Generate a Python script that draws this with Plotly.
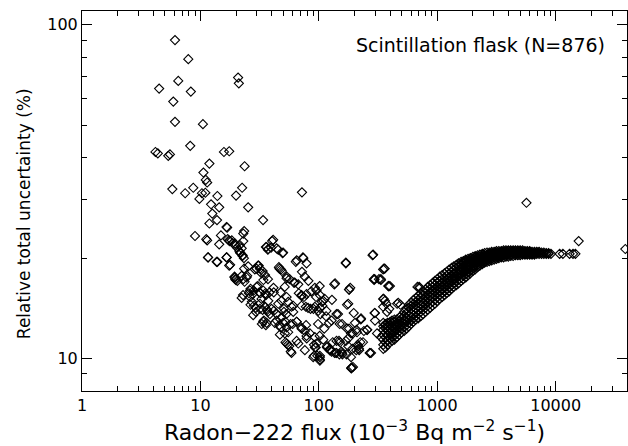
import math
import plotly.graph_objects as go

# ---------------- data ----------------
# scattered points: flux (10^-3 Bq m^-2 s^-1) and relative total uncertainty (%)
flux_scatter = [
    6.1, 7.9, 6.5, 4.48, 8.3, 5.9, 6.1, 10.5, 8.2, 4.17, 4.37, 5.35, 5.53, 15.8, 17.5, 20.8, 21.1,
    11.9, 23.6, 10.6, 11.1, 11.4, 5.79, 8.7, 7.43, 10.3, 11.0, 9.8, 13.9, 22.5, 20.0, 72, 12.3,
    14.4, 25.3, 12.6, 13.8, 11.9, 33.8, 16.6, 16.8, 23.4, 9.0, 11.2, 11.4, 14.9, 17.0, 17.4, 18.4,
    14.4, 19.6, 21.5, 22.3, 21.8, 22.7, 41.1, 35.7, 37.1, 39.5, 44, 49.9, 11.6, 16.7, 13.9, 17.8,
    65, 74, 169, 287, 360, 19.4, 19.7, 23.6, 25.3, 29.8, 31, 33.5, 35.1, 34, 46.5, 48.7, 53.6,
    56.6, 62.6, 72, 76, 81.6, 92.5, 101.6, 137, 184, 296, 322, 398, 22.9, 25.7, 26.5, 28.2, 30.5,
    32.2, 35.4, 38.3, 41.4, 41.6, 47.6, 51.5, 67.7, 71.5, 86.2, 94.7, 106, 112, 27.2, 26.5, 29.4,
    31.8, 33.5, 37.1, 39.8, 44, 50.7, 53.1, 60.7, 81, 90, 102, 129, 177, 34.3, 33, 36.2, 42.4,
    47.6, 52.3, 60.2, 65, 71.5, 78, 98.5, 111, 122, 145, 157, 180, 202, 227, 52.3, 54.8, 57.9,
    79, 91, 101.6, 91, 102, 124, 131, 140, 157, 151, 187, 194, 188, 207, 213, 218, 224, 276, 187,
    177, 210, 255, 298, 362, 349, 377, 458, 703, 310, 335, 236,
    # left cluster details
    17.7, 18.7, 19.5, 20.4, 21.3, 21.6, 22.7, 23.3, 23.0, 23.0, 11.6, 13.7, 16.6, 17.5, 23.4, 19.5,
    19.9, 22.3, 24.8, 40.3, 36.2, 37.3, 45.4, 49.4, 46, 47.9, 30.7, 31.8, 28.8, 32.9, 37.2, 53.4,
    63.9, 73.4, 78.7,
    19.5, 20.5, 23.0, 24.5, 26.2, 27.6, 26.2, 22.3, 29.8, 31.4, 33.9, 35.7, 32.8, 37.4, 28.3, 29.4,
    27.9, 31.8, 35.0, 36.6, 38.6, 41.7, 45.4, 48.4, 53.4, 55.1, 58.8, 60.8, 50.7, 48.4, 44.0, 46.3,
    50.0, 53.4, 57.7, 55.1, 51.6, 46.9, 33.9, 35.7, 64.9, 71.4, 76.2, 78.7, 84.0, 92.5, 61.5, 67.0,
    71.4, 74.8, 78.7, 95.5, 102, 109, 107, 116, 115, 128, 71.4, 77.6, 85.1, 92.5, 98.8, 103, 64.9,
    67.0, 56.2, 58.8, 53.4, 95.5, 109, 117, 124, 136, 149, 158, 171, 89.6, 102,
    # middle region details
    284, 169, 349, 135, 180, 293, 334, 387, 173, 141, 197, 226, 296, 353, 372, 150, 173, 208, 194,
    240, 256, 148, 169, 177, 192, 215, 219, 269, 92.5, 102, 117, 128, 141, 155, 188, 141, 76.2, 94,
    97, 102, 124,
    # near the band and beyond it
    354, 291, 334, 387, 180, 680, 713, 1762, 1652, 1038, 922, 468, 489, 349, 361, 297, 393, 270,
    189, 5660, 15630, 38700, 10800, 11500, 13100, 14000, 14660,
]
unc_scatter = [
    90, 78.9, 67.9, 64.4, 63.1, 58.9, 51.2, 50.4, 43.4, 41.6, 41.2, 40.5, 40.9, 41.6, 41.8, 69.5, 66.8,
    38.4, 37.7, 36.1, 34.3, 33.7, 32.2, 32.5, 31.3, 31.3, 31.4, 30.1, 30.7, 32.5, 30.8, 31.5, 29.0,
    28.4, 28.4, 27.2, 26.0, 25.4, 26.0, 24.8, 24.7, 24.1, 23.3, 22.8, 22.6, 23.4, 22.8, 22.6, 22.6,
    22.0, 22.1, 21.9, 21.4, 20.7, 20.3, 22.7, 21.6, 21.2, 21.5, 21.4, 20.8, 20.1, 20.1, 19.5, 19.1,
    19.7, 20.0, 19.4, 20.5, 18.6, 17.6, 17.3, 17.0, 18.9, 18.6, 19.0, 18.3, 17.8, 17.2, 18.6, 18.3, 17.6,
    17.3, 16.9, 18.2, 17.6, 17.1, 16.3, 16.5, 16.8, 16.3, 17.3, 17.3, 16.5, 15.5, 15.7, 16.2, 16.0, 16.5,
    15.7, 15.7, 15.8, 16.3, 15.8, 15.8, 16.4, 15.7, 15.4, 15.9, 15.3, 14.8, 15.1, 14.8, 14.5, 14.2,
    14.6, 14.0, 13.8, 14.1, 13.6, 14.1, 13.6, 14.4, 14.2, 14.1, 14.2, 15.0, 14.6, 13.0, 12.7, 12.8, 12.8,
    12.4, 12.9, 12.7, 12.9, 12.3, 12.6, 12.7, 12.3, 12.8, 13.6, 12.7, 12.3, 12.8, 13.2, 11.2, 11.0, 10.5,
    11.5, 11.0, 11.7, 10.2, 9.95, 10.7, 11.2, 10.4, 10.4, 11.2, 10.1, 9.44, 9.35, 10.6, 11.0, 10.7, 11.2, 10.4, 11.9,
    11.5, 12.0, 12.2, 13.0, 12.6, 14.3, 13.8, 14.6, 16.4, 11.9, 11.6, 11.2,
    22.5, 22.2, 21.9, 21.5, 21.0, 20.8, 20.4, 20.0, 23.7, 22.5, 20.1, 19.5, 20.1, 19.0, 18.6, 17.5,
    17.2, 17.7, 17.7, 22.5, 21.6, 21.3, 21.2, 20.7, 18.8, 18.5, 19.0, 18.6, 18.5, 18.0, 17.3, 17.4,
    19.5, 20.1, 19.3,
    17.5, 17.1, 17.3, 17.5, 16.0, 15.6, 15.3, 15.2, 16.4, 15.8, 16.0, 15.5, 15.1, 14.9, 14.4, 13.8,
    13.5, 14.1, 14.3, 14.0, 13.6, 13.9, 14.6, 14.9, 15.3, 14.8, 14.3, 13.8, 13.8, 13.3, 13.0, 12.6,
    12.8, 12.4, 12.7, 12.0, 11.9, 11.8, 12.9, 12.6, 12.9, 12.4, 12.1, 11.7, 11.9, 11.6, 16.9, 16.7,
    15.5, 15.3, 15.6, 16.0, 15.5, 14.9, 14.4, 13.9, 13.4, 13.0, 14.4, 14.3, 14.1, 14.3, 13.9, 13.6, 11.3,
    11.1, 10.9, 10.4, 11.1, 11.1, 11.4, 10.9, 10.6, 10.4, 10.3, 10.3, 10.3, 10.1, 9.87,
    20.4, 19.3, 18.5, 16.7, 16.1, 17.2, 17.2, 16.5, 14.5, 13.6, 13.7, 13.1, 13.7, 15.1, 14.6, 12.7, 12.3, 12.2, 11.9,
    12.1, 12.2, 11.3, 11.3, 10.9, 10.7, 10.9, 10.6, 10.4, 10.8, 10.2, 10.8, 10.5, 10.4, 10.5, 9.38, 11.3, 10.6, 10.8,
    10.2, 10.1, 10.6,
    18.6, 17.3, 17.3, 16.5, 16.1, 16.4, 16.3, 19.7, 19.4, 17.1, 16.9, 14.7, 14.5, 15.1, 14.9, 13.7, 14.1, 10.4,
    9.4, 29.3, 22.5, 21.3, 20.6, 20.6, 20.6, 20.6, 20.6,
]

# dense band: flux columns and the uncertainties read in each column
band_flux = [350, 365, 380, 400, 415, 435, 455, 480, 500, 525, 550, 575, 600, 630, 660, 690, 725,
             760, 795, 830, 870, 910, 955, 1000, 1050, 1100, 1150, 1200, 1260, 1320, 1380, 1450,
             1510, 1590, 1660, 1740, 1820, 1900, 2000, 2090, 2190, 2290, 2400, 2510, 2630, 2750,
             2880, 3020, 3160, 3310, 3470, 3630, 3800, 3980, 4170, 4370, 4570, 4790, 5010, 5250,
             5500, 5750, 6030, 6310, 6610, 6920, 7240, 7590, 7940, 8320, 8710, 9120]
band_unc = [
    [10.7, 11.0, 11.4, 11.8, 12.2, 12.5, 12.8], [10.8, 11.2, 11.6, 12.0, 12.4, 12.7],
    [11.0, 11.3, 11.7, 12.1, 12.5, 12.8], [11.2, 11.5, 11.9, 12.3, 12.6, 12.9],
    [11.3, 11.6, 11.9, 12.2, 12.5, 12.8, 13.0], [11.4, 11.7, 12.0, 12.3, 12.6, 12.9, 13.1],
    [11.6, 11.9, 12.2, 12.5, 12.8, 13.1], [11.8, 12.1, 12.4, 12.7, 13.0, 13.3],
    [12.0, 12.3, 12.6, 12.9, 13.2, 13.5], [12.1, 12.4, 12.7, 13.0, 13.4, 13.8],
    [12.3, 12.6, 12.9, 13.3, 13.7, 14.1], [12.5, 12.8, 13.1, 13.5, 13.9, 14.2, 14.5],
    [12.7, 13.0, 13.3, 13.7, 14.1, 14.4, 14.7], [12.9, 13.2, 13.5, 13.9, 14.3, 14.6, 15.0],
    [13.1, 13.4, 13.7, 14.1, 14.5, 14.8, 15.2], [13.2, 13.6, 13.9, 14.3, 14.7, 15.0, 15.4],
    [13.4, 13.8, 14.1, 14.5, 14.9, 15.3, 15.7], [13.6, 14.0, 14.3, 14.7, 15.1, 15.5, 15.9],
    [13.8, 14.2, 14.5, 14.9, 15.3, 15.7, 16.1], [14.0, 14.4, 14.8, 15.2, 15.6, 16.0, 16.4],
    [14.2, 14.6, 15.0, 15.4, 15.8, 16.2, 16.6], [14.4, 14.8, 15.2, 15.6, 16.0, 16.4, 16.8],
    [14.6, 15.0, 15.4, 15.8, 16.2, 16.6, 17.1], [14.9, 15.3, 15.7, 16.1, 16.5, 16.9, 17.3],
    [15.1, 15.5, 15.9, 16.3, 16.7, 17.1, 17.6], [15.3, 15.7, 16.1, 16.5, 16.9, 17.3, 17.8],
    [15.5, 15.9, 16.3, 16.7, 17.1, 17.5, 18.0], [15.7, 16.1, 16.5, 16.9, 17.3, 17.7, 18.2],
    [15.9, 16.3, 16.7, 17.1, 17.6, 18.0, 18.5], [16.2, 16.6, 17.0, 17.4, 17.8, 18.2, 18.7],
    [16.4, 16.8, 17.2, 17.6, 18.0, 18.5, 18.9], [16.6, 17.0, 17.4, 17.8, 18.2, 18.7, 19.1],
    [16.8, 17.2, 17.6, 18.0, 18.4, 18.9, 19.3], [17.1, 17.5, 17.9, 18.3, 18.7, 19.1, 19.5],
    [17.3, 17.7, 18.1, 18.5, 18.9, 19.3, 19.6], [17.5, 17.9, 18.3, 18.7, 19.1, 19.5, 19.8],
    [17.8, 18.1, 18.5, 18.9, 19.2, 19.6, 19.9], [18.0, 18.3, 18.7, 19.0, 19.4, 19.7, 20.0],
    [18.3, 18.6, 18.9, 19.3, 19.6, 19.9, 20.2], [18.5, 18.8, 19.1, 19.5, 19.8, 20.1, 20.3],
    [18.8, 19.1, 19.4, 19.7, 20.0, 20.2, 20.4], [19.0, 19.3, 19.6, 19.9, 20.2, 20.5],
    [19.2, 19.5, 19.8, 20.1, 20.3, 20.6], [19.4, 19.7, 19.9, 20.2, 20.4, 20.7],
    [19.5, 19.8, 20.0, 20.3, 20.5, 20.8], [19.6, 19.9, 20.1, 20.4, 20.6, 20.8],
    [19.7, 20.0, 20.2, 20.5, 20.7, 20.9], [19.8, 20.1, 20.3, 20.5, 20.7, 20.9],
    [19.9, 20.2, 20.4, 20.6, 20.8, 21.0], [20.0, 20.2, 20.4, 20.6, 20.8, 21.0],
    [20.1, 20.3, 20.5, 20.7, 20.9, 21.0], [20.1, 20.4, 20.7, 20.9, 21.1],
    [20.2, 20.5, 20.7, 20.9, 21.1], [20.2, 20.5, 20.7, 21.0, 21.1],
    [20.3, 20.5, 20.8, 21.0, 21.1], [20.3, 20.6, 20.8, 21.0, 21.1],
    [20.4, 20.6, 20.8, 21.0, 21.1], [20.4, 20.6, 20.8, 21.0, 21.1],
    [20.4, 20.6, 20.8, 21.0, 21.1], [20.5, 20.7, 20.9, 21.1],
    [20.5, 20.7, 20.9, 21.0], [20.5, 20.7, 20.9, 21.0], [20.5, 20.7, 20.9, 21.0],
    [20.5, 20.7, 20.9], [20.5, 20.7, 20.9], [20.6, 20.8, 20.9], [20.6, 20.8, 20.9],
    [20.6, 20.8], [20.6, 20.8], [20.6, 20.7], [20.6, 20.7], [20.6],
]

x_tick_vals = [1, 10, 100, 1000, 10000]
x_tick_text = ["1", "10", "100", "1000", "10000"]
y_tick_vals = [10, 100]
y_tick_text = ["10", "100"]

x_title = "Radon−222 flux (10<sup>−3</sup> Bq m<sup>−2</sup> s<sup>−1</sup>)"
y_title = "Relative total uncertainty (%)"
label_text = "Scintillation flask (N=876)"

# ---------------- figure ----------------
flux_all = list(flux_scatter)
unc_all = list(unc_scatter)
for fx, col in zip(band_flux, band_unc):
    for u in col:
        flux_all.append(fx)
        unc_all.append(u)

fig = go.Figure()
fig.add_trace(go.Scatter(
    x=flux_all, y=unc_all, mode="markers", cliponaxis=True,
    marker=dict(symbol="diamond-open", size=7, color="black", line=dict(width=1.1, color="black")),
    hoverinfo="skip",
))

x_minor = [m * d for d in [1, 10, 100, 1000, 10000] for m in range(2, 10) if m * d <= 40000]
y_minor = [8, 9, 20, 30, 40, 50, 60, 70, 80, 90]

axis_common = dict(
    type="log", showgrid=False, zeroline=False, showline=True, linecolor="black", linewidth=1,
    mirror="allticks", ticks="inside", ticklen=10, tickwidth=1, tickcolor="black",
    tickfont=dict(size=16, family="DejaVu Sans", color="black"), automargin=False,
)

fig.update_layout(
    width=628, height=446,
    margin=dict(l=82, r=1, t=11, b=55, autoexpand=False),
    plot_bgcolor="white", paper_bgcolor="white", showlegend=False,
    font=dict(family="DejaVu Sans", color="black"),
    xaxis=dict(
        **axis_common, range=[0, math.log10(40000)],
        tickmode="array", tickvals=x_tick_vals, ticktext=x_tick_text,
        minor=dict(tickmode="array", tickvals=x_minor, ticks="inside", ticklen=5,
                   tickcolor="black", showgrid=False),
    ),
    yaxis=dict(
        **axis_common, range=[math.log10(8), math.log10(110)],
        tickmode="array", tickvals=y_tick_vals, ticktext=y_tick_text,
        minor=dict(tickmode="array", tickvals=y_minor, ticks="inside", ticklen=5,
                   tickcolor="black", showgrid=False),
    ),
    annotations=[
        dict(text=label_text, xref="paper", yref="paper",
             x=0.963, y=0.9105, xanchor="right", yanchor="middle", showarrow=False,
             font=dict(size=19, family="DejaVu Sans", color="black")),
        dict(text=x_title, xref="paper", yref="paper",
             x=0.50, y=-0.105, xanchor="center", yanchor="middle", showarrow=False,
             font=dict(size=22, family="DejaVu Sans", color="black")),
        dict(text=y_title, xref="paper", yref="paper", textangle=-90,
             x=-0.106, y=0.466, xanchor="center", yanchor="middle", showarrow=False,
             font=dict(size=17, family="DejaVu Sans", color="black")),
    ],
)

fig.write_html(
    "out.html",
    config={"displayModeBar": False},
    post_script="document.body.style.margin='0px';document.body.style.overflow='hidden';",
)
